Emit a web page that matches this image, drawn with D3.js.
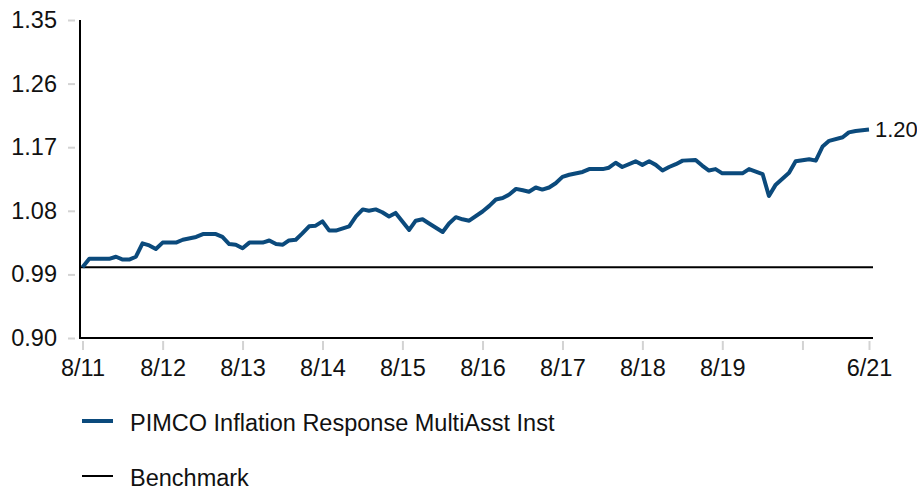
<!doctype html>
<html>

<head>
    <meta charset="utf-8">
    <title>PIMCO Inflation Response MultiAsst Inst</title>
    <script type="text/javascript" src="https://cdn.jsdelivr.net/npm/d3@7"></script>
    <style type="text/css">
        html,
        body {
            margin: 0;
            padding: 0;
            background: #fff;
        }

        #chart svg {
            display: block;
            font-family: "Liberation Sans", Arial, sans-serif;
        }
    </style>

    <script type="text/javascript">
        // growth of 1, month by month
        var months = [
            "2011-08", "2011-09", "2011-12", "2012-01", "2012-02", "2012-03", "2012-04", "2012-05",
            "2012-06", "2012-07", "2012-08", "2012-10", "2012-11", "2013-01", "2013-02", "2013-04",
            "2013-05", "2013-06", "2013-07", "2013-08", "2013-09", "2013-11", "2013-12", "2014-01",
            "2014-02", "2014-03", "2014-04", "2014-05", "2014-06", "2014-07", "2014-08", "2014-09",
            "2014-10", "2014-12", "2015-01", "2015-02", "2015-03", "2015-04", "2015-05", "2015-06",
            "2015-07", "2015-08", "2015-09", "2015-10", "2015-11", "2015-12", "2016-02", "2016-03",
            "2016-04", "2016-05", "2016-06", "2016-08", "2016-09", "2016-10", "2016-11", "2016-12",
            "2017-01", "2017-02", "2017-03", "2017-04", "2017-05", "2017-06", "2017-07", "2017-08",
            "2017-09", "2017-11", "2017-12", "2018-02", "2018-03", "2018-04", "2018-05", "2018-07",
            "2018-08", "2018-09", "2018-10", "2018-11", "2018-12", "2019-01", "2019-02", "2019-04",
            "2019-05", "2019-06", "2019-07", "2019-08", "2019-11", "2019-12", "2020-02", "2020-03",
            "2020-04", "2020-06", "2020-07", "2020-09", "2020-10", "2020-11", "2020-12", "2021-02",
            "2021-03", "2021-04", "2021-06"
        ]

        var fundValues = [
            1.000, 1.012, 1.012, 1.015, 1.011, 1.011, 1.015, 1.034,
            1.031, 1.026, 1.035, 1.035, 1.039, 1.043, 1.047, 1.047,
            1.043, 1.033, 1.032, 1.027, 1.035, 1.035, 1.038, 1.033,
            1.032, 1.038, 1.039, 1.048, 1.058, 1.059, 1.065, 1.052,
            1.052, 1.058, 1.072, 1.082, 1.080, 1.082, 1.078, 1.072,
            1.077, 1.065, 1.053, 1.066, 1.068, 1.062, 1.050, 1.062,
            1.071, 1.068, 1.066, 1.079, 1.087, 1.096, 1.098, 1.103,
            1.111, 1.109, 1.107, 1.113, 1.110, 1.113, 1.119, 1.128,
            1.131, 1.135, 1.139, 1.139, 1.141, 1.148, 1.142, 1.150,
            1.145, 1.150, 1.145, 1.137, 1.142, 1.146, 1.151, 1.152,
            1.144, 1.137, 1.139, 1.133, 1.133, 1.139, 1.132, 1.101,
            1.117, 1.134, 1.150, 1.153, 1.151, 1.171, 1.179, 1.184,
            1.191, 1.193, 1.195
        ]

        var benchmarkValue = 1.00

        var yTicks = [0.90, 0.99, 1.08, 1.17, 1.26, 1.35]

        var xTickDates = ["2011-08", "2012-08", "2013-08", "2014-08", "2015-08", "2016-08",
            "2017-08", "2018-08", "2019-08", "2020-08", "2021-06"]
        var xTickLabels = ["8/11", "8/12", "8/13", "8/14", "8/15", "8/16",
            "8/17", "8/18", "8/19", "", "6/21"]

        var legendLabels = ["PIMCO Inflation Response MultiAsst Inst", "Benchmark"]

        document.addEventListener("DOMContentLoaded", function (event) {

            var width = 917,
                height = 490
            var fundColor = "#0b4a7c"
            var tickColor = "#d3d3d3"
            var tickFont = 23.5
            var legendFont = 23.5
            var endFont = 22

            var parseMonth = d3.timeParse("%Y-%m")

            var data = months.map(function (m, i) {
                return { date: parseMonth(m), value: fundValues[i] }
            })

            var svg = d3.select("#chart")
                .append("svg")
                .attr("width", width)
                .attr("height", height)

            var x = d3.scaleTime()
                .domain([parseMonth("2011-08"), parseMonth("2021-06")])
                .range([82.5, 869])

            var y = d3.scaleLinear()
                .domain([0.90, 1.35])
                .range([338, 20])

            // y axis: grey ticks left of the black line, labels further left
            var yAxis = svg.append("g")
                .attr("transform", "translate(75,0)")
                .call(d3.axisLeft(y)
                    .tickValues(yTicks)
                    .tickSize(7)
                    .tickPadding(11)
                    .tickFormat(d3.format(".2f")))

            yAxis.select(".domain").remove()
            yAxis.selectAll(".tick line")
                .attr("stroke", tickColor)
                .attr("stroke-width", 2)
            yAxis.selectAll(".tick text")
                .attr("fill", "#111")
                .style("font-size", tickFont + "px")
                .style("font-family", "'Liberation Sans', Arial, sans-serif")

            // x axis: grey ticks under the black line
            var xAxis = svg.append("g")
                .attr("transform", "translate(0,341)")
                .call(d3.axisBottom(x)
                    .tickValues(xTickDates.map(parseMonth))
                    .tickSize(9)
                    .tickPadding(9)
                    .tickFormat(function (d, i) { return xTickLabels[i] }))

            xAxis.select(".domain").remove()
            xAxis.selectAll(".tick line")
                .attr("stroke", tickColor)
                .attr("stroke-width", 2)
            xAxis.selectAll(".tick text")
                .attr("fill", "#111")
                .style("font-size", tickFont + "px")
                .style("font-family", "'Liberation Sans', Arial, sans-serif")

            // axis lines
            svg.append("line")
                .attr("x1", 80).attr("y1", y(1.35))
                .attr("x2", 80).attr("y2", y(0.90) + 1)
                .attr("stroke", "#000")
                .attr("stroke-width", 2)

            svg.append("line")
                .attr("x1", 79).attr("y1", y(0.90))
                .attr("x2", 873).attr("y2", y(0.90))
                .attr("stroke", "#000")
                .attr("stroke-width", 2)

            // benchmark
            svg.append("line")
                .attr("x1", 80).attr("y1", y(benchmarkValue))
                .attr("x2", 873).attr("y2", y(benchmarkValue))
                .attr("stroke", "#000")
                .attr("stroke-width", 2)

            // fund line
            var line = d3.line()
                .x(function (d) { return x(d.date) })
                .y(function (d) { return y(d.value) })

            svg.append("path")
                .datum(data)
                .attr("d", line)
                .attr("fill", "none")
                .attr("stroke", fundColor)
                .attr("stroke-width", 4)
                .attr("stroke-linejoin", "round")

            // end value label
            var last = data[data.length - 1]
            svg.append("text")
                .attr("x", x(last.date) + 6)
                .attr("y", y(last.value))
                .attr("dy", "0.35em")
                .attr("fill", "#111")
                .style("font-size", endFont + "px")
                .text(d3.format(".2f")(last.value))

            // legend
            var legend = svg.append("g")
            var legendStyles = [
                { color: fundColor, width: 4, y: 421 },
                { color: "#000", width: 2, y: 476 }
            ]

            legendLabels.forEach(function (label, i) {
                var s = legendStyles[i]
                legend.append("line")
                    .attr("x1", 82).attr("y1", s.y)
                    .attr("x2", 113).attr("y2", s.y)
                    .attr("stroke", s.color)
                    .attr("stroke-width", s.width)
                legend.append("text")
                    .attr("x", 130)
                    .attr("y", s.y + 2)
                    .attr("dy", "0.35em")
                    .attr("fill", "#111")
                    .style("font-size", legendFont + "px")
                    .text(label)
            })

        })
    </script>

</head>

<body>
    <div id="chart"></div>
</body>

</html>
